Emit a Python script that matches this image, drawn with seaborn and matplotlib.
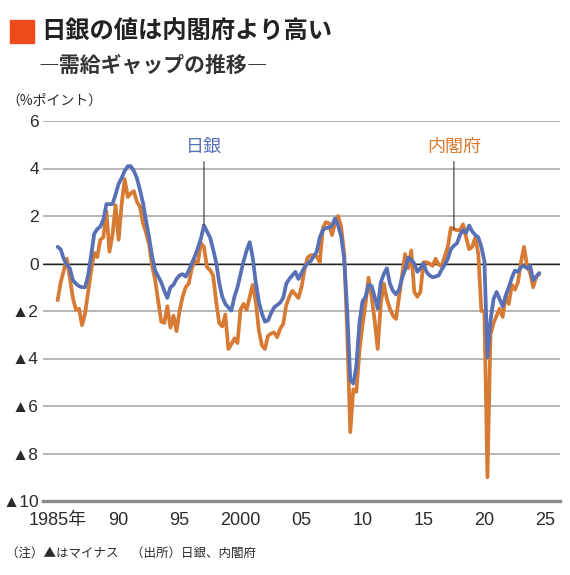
import numpy as np
import pandas as pd
import matplotlib
matplotlib.use('Agg')
import matplotlib.pyplot as plt
import matplotlib.patches as mpatches
import seaborn as sns

# Data: quarterly output gap, 1985Q1 - 2024Q3 (% points)
boj = [
    0.7, 0.6, 0.2, -0.05, -0.2, -0.7, -0.85, -0.95,          # 1985-86
    -1.0, -1.0, -0.5, 0.35, 1.25, 1.45, 1.55, 1.85,          # 1987-88
    2.5, 2.5, 2.5, 2.9, 3.35, 3.6, 3.9, 4.1,                 # 1989-90
    4.1, 3.9, 3.6, 3.1, 2.55, 1.8, 1.1, 0.3,                 # 1991-92
    -0.3, -0.55, -0.8, -1.15, -1.45, -1.0, -0.9, -0.65,      # 1993-94
    -0.5, -0.45, -0.55, -0.3, 0.0, 0.3, 0.65, 1.05,          # 1995-96
    1.6, 1.35, 1.1, 0.6, 0.05, -0.8, -1.4, -1.7,             # 1997-98
    -1.85, -1.98, -1.4, -1.0, -0.45, 0.1, 0.55, 0.9,         # 1999-2000
    0.25, -0.8, -1.6, -2.1, -2.45, -2.4, -2.1, -1.85,        # 2001-02
    -1.75, -1.65, -1.45, -0.85, -0.65, -0.5, -0.35, -0.65,   # 2003-04
    -0.4, -0.15, 0.0, 0.1, 0.3, 0.5, 1.1, 1.4,               # 2005-06
    1.5, 1.5, 1.6, 1.9, 1.6, 1.15, 0.2, -2.0,                # 2007-08
    -4.9, -5.05, -4.3, -2.5, -1.6, -1.4, -0.9, -0.95,        # 2009-10
    -1.4, -1.9, -0.8, -0.45, -0.2, -0.85, -1.15, -1.3,       # 2011-12
    -1.1, -0.6, -0.25, 0.25, 0.15, 0.0, -0.35, -0.2,         # 2013-14
    0.0, -0.35, -0.5, -0.58, -0.55, -0.5, -0.25, -0.05,      # 2015-16
    0.2, 0.6, 0.75, 0.85, 1.2, 1.4, 1.3, 1.6,                # 2017-18
    1.35, 1.2, 1.1, 0.7, 0.1, -3.95, -2.4, -1.5,             # 2019-20
    -1.2, -1.5, -1.8, -1.35, -1.0, -0.6, -0.3, -0.35,        # 2021-22
    -0.15, -0.1, -0.2, -0.1, -0.7, -0.55, -0.4,              # 2023-24
]
cao = [
    -1.55, -0.8, -0.3, 0.2, -0.6, -1.45, -1.95, -1.9,        # 1985-86
    -2.6, -2.1, -1.2, -0.3, 0.45, 0.27, 1.0, 1.1,            # 1987-88
    2.2, 0.5, 1.2, 2.45, 1.0, 2.5, 3.55, 2.8,                # 1989-90
    2.95, 3.05, 2.6, 2.4, 1.7, 1.3, 0.8, -0.1,               # 1991-92
    -0.7, -1.6, -2.45, -2.5, -1.8, -2.7, -2.2, -2.85,        # 1993-94
    -2.0, -1.4, -1.0, -0.85, -0.2, 0.1, 0.05, 0.85,          # 1995-96
    0.7, -0.15, -0.28, -0.5, -1.6, -2.5, -2.65, -2.15,       # 1997-98
    -3.6, -3.4, -3.15, -3.35, -1.95, -1.7, -1.95, -1.4,      # 1999-2000
    -0.9, -1.6, -2.8, -3.45, -3.6, -3.05, -2.95, -2.9,       # 2001-02
    -3.1, -2.75, -2.55, -1.75, -1.4, -1.15, -1.3, -1.45,     # 2003-04
    -1.0, -0.25, 0.25, 0.35, 0.35, 0.3, 0.05, 1.5,           # 2005-06
    1.74, 1.7, 1.2, 1.7, 2.0, 1.55, 0.4, -2.9,               # 2007-08
    -7.1, -5.3, -5.4, -3.7, -2.6, -1.7, -0.6, -1.4,          # 2009-10
    -2.4, -3.6, -1.7, -0.85, -1.5, -1.9, -2.2, -2.33,        # 2011-12
    -1.4, -0.5, 0.4, -0.2, 0.55, -1.2, -1.4, -1.2,           # 2013-14
    0.05, 0.05, 0.0, -0.1, 0.2, -0.05, -0.1, 0.3,            # 2015-16
    0.7, 1.5, 1.45, 1.4, 1.4, 1.65, 1.1, 0.6,                # 2017-18
    0.7, 1.1, 0.4, -2.0, -2.0, -9.0, -3.0, -2.5,             # 2019-20
    -2.2, -1.9, -2.25, -1.35, -1.7, -0.9, -1.1, -0.8,        # 2021-22
    0.05, 0.7, -0.1, -0.4, -1.0, -0.55, -0.45,               # 2023-24
]
quarters = pd.period_range('1985Q1', periods=len(boj), freq='Q')
tick_years = [1985, 1990, 1995, 2000, 2005, 2010, 2015, 2020, 2025]
tick_labels = ['1985年', '90', '95', '2000', '05', '10', '15', '20', '25']
y_ticks = [-10, -8, -6, -4, -2, 0, 2, 4, 6]
y_labels = ['▲10', '▲8', '▲6', '▲4', '▲2', '0', '2', '4', '6']

x = quarters.year + (quarters.quarter - 1) / 4
df = pd.concat([
    pd.DataFrame({'年': x, '値': cao, '系列': '内閣府'}),
    pd.DataFrame({'年': x, '値': boj, '系列': '日銀'}),
])

BLUE = '#5871b6'
ORANGE = '#d77a33'
TEXT = '#2b2b2b'

sns.set_theme(style='white')
plt.rcParams['font.family'] = ['Liberation Sans', 'Noto Sans CJK JP']

fig = plt.figure(figsize=(5.7, 5.75), dpi=100)
ax = fig.add_axes([43 / 570, 1 - 501 / 575, (560 - 43) / 570, (501 - 121) / 575])

sns.lineplot(data=df, x='年', y='値', hue='系列', hue_order=['内閣府', '日銀'],
             palette={'内閣府': ORANGE, '日銀': BLUE}, linewidth=2.7,
             estimator=None, sort=False, legend=False, ax=ax)

ax.set_xlim(1983.8, 2026.2)
ax.set_ylim(-10, 6)
ax.set_yticks(y_ticks)
ax.set_yticklabels(y_labels, fontsize=12.5)
ax.set_xticks(tick_years)
ax.set_xticklabels(tick_labels, fontsize=13)
ax.tick_params(axis='both', length=0, colors=TEXT)
ax.tick_params(axis='y', pad=3)
ax.tick_params(axis='x', pad=8)
ax.set_xlabel('')
ax.set_ylabel('')
ax.yaxis.grid(True, color='#b5b5b5', lw=1.4)
ax.xaxis.grid(False)
ax.axhline(0, color='#222222', lw=1.0, zorder=1.5)
for side in ['top', 'right', 'left']:
    ax.spines[side].set_visible(False)
ax.spines['bottom'].set_color('#8a8a8a')
ax.spines['bottom'].set_linewidth(2.4)
ax.set_axisbelow(True)

# pointer labels
i_boj = 48
i_cao = 130
ax.annotate('日銀', xy=(x[i_boj], boj[i_boj]), xytext=(x[i_boj], 4.55),
            ha='center', va='bottom', fontsize=13, color=BLUE,
            family=['Noto Sans CJK JP'],
            arrowprops=dict(arrowstyle='-', color='#333333', lw=0.8,
                            relpos=(0.5, 0), shrinkA=2, shrinkB=0))
ax.annotate('内閣府', xy=(x[i_cao], cao[i_cao]), xytext=(x[i_cao], 4.55),
            ha='center', va='bottom', fontsize=13, color=ORANGE,
            family=['Noto Sans CJK JP'],
            arrowprops=dict(arrowstyle='-', color='#333333', lw=0.8,
                            relpos=(0.5, 0), shrinkA=2, shrinkB=0))

# title block
fig.patches.append(mpatches.Rectangle((10 / 570, 1 - 43 / 575), 24 / 570, 23 / 575,
                                      transform=fig.transFigure, color='#ee4a1b'))
fig.text(41 / 570, 1 - 32 / 575, '日銀の値は内閣府より高い', fontsize=17.5,
         fontweight='bold', color='#222222', va='center', family=['Noto Sans CJK JP'])
fig.text(38 / 570, 1 - 65 / 575, '―需給ギャップの推移―', fontsize=15,
         fontweight='bold', color='#333333', va='center', family=['Noto Sans CJK JP'])
fig.text(6 / 570, 1 - 101 / 575, '（%ポイント）', fontsize=10,
         color=TEXT, va='center', family=['Noto Sans CJK JP'])
fig.text(6 / 570, 1 - 553 / 575, '（注）▲はマイナス　（出所）日銀、内閣府', fontsize=9,
         color=TEXT, va='center', family=['Noto Sans CJK JP'])

fig.savefig('out.png', dpi=100, facecolor='white')
